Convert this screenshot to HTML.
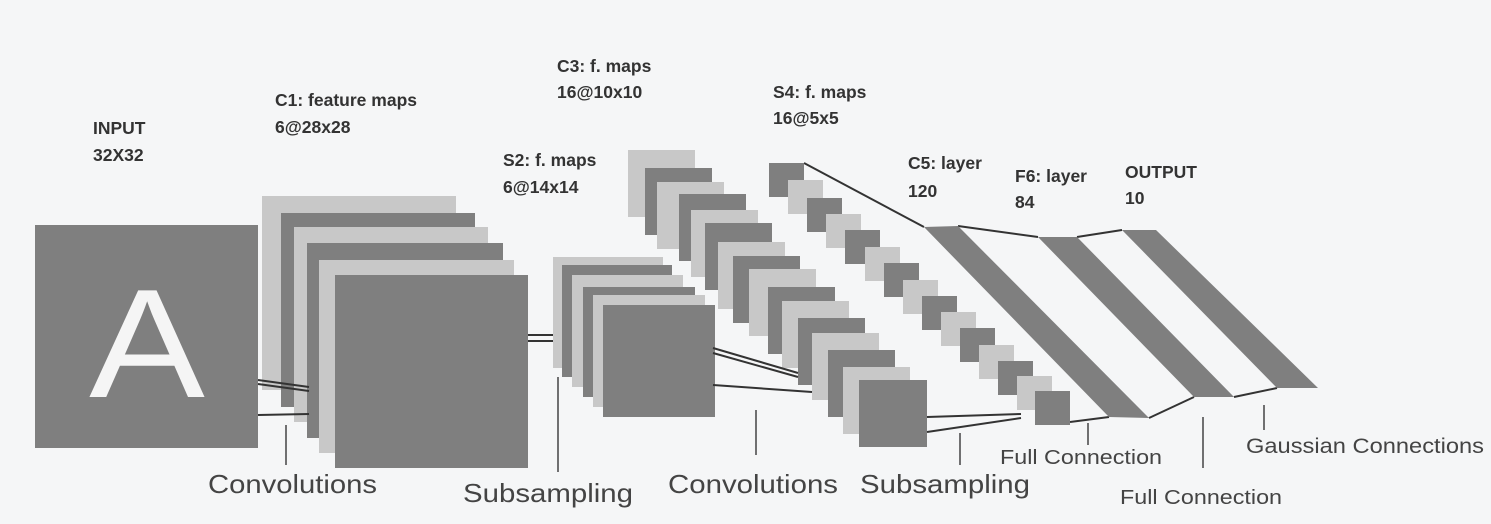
<!DOCTYPE html>
<html><head><meta charset="utf-8"><style>
html,body{margin:0;padding:0;background:#f5f6f7;}
svg{display:block}
.t{font-family:"Liberation Sans",sans-serif;font-weight:bold;font-size:17.5px;fill:#333}
.b{font-family:"Liberation Sans",sans-serif;fill:#444}
</style></head><body>
<svg width="1491" height="524" viewBox="0 0 1491 524" xmlns="http://www.w3.org/2000/svg">
<rect width="1491" height="524" fill="#f5f6f7"/>
<!-- input -->
<rect x="35" y="225" width="223" height="223" fill="#7f7f7f"/>
<text x="147" y="397" text-anchor="middle" font-family="Liberation Sans,sans-serif" font-size="155" fill="#f5f5f5" transform="translate(147 0) scale(1.12 1) translate(-147 0)">A</text>
<!-- C1 -->
<rect x="262" y="196" width="194" height="194" fill="#c8c8c8"/>
<rect x="281" y="213" width="194" height="194" fill="#7f7f7f"/>
<rect x="294" y="227" width="194" height="195" fill="#c8c8c8"/>
<rect x="307" y="243" width="196" height="195" fill="#7f7f7f"/>
<rect x="319" y="260" width="195" height="193" fill="#c8c8c8"/>
<rect x="335" y="275" width="193" height="193" fill="#7f7f7f"/>
<g stroke="#333" stroke-width="2" fill="none">
<line x1="258" y1="380" x2="309" y2="387"/><line x1="258" y1="384" x2="309" y2="391"/><line x1="258" y1="415" x2="309" y2="414"/>
<line x1="528" y1="335" x2="553" y2="335"/><line x1="528" y1="341" x2="553" y2="341"/>
</g>
<!-- S2 -->
<rect x="553" y="257" width="110" height="111" fill="#c8c8c8"/>
<rect x="562" y="265" width="110" height="112" fill="#7f7f7f"/>
<rect x="572" y="275" width="111" height="112" fill="#c8c8c8"/>
<rect x="583" y="287" width="112" height="110" fill="#7f7f7f"/>
<rect x="593" y="295" width="112" height="112" fill="#c8c8c8"/>
<rect x="603" y="305" width="112" height="112" fill="#7f7f7f"/>
<!-- C3 -->
<g>
<rect x="628" y="150" width="67" height="67" fill="#c8c8c8"/>
<rect x="645" y="168" width="67" height="67" fill="#7f7f7f"/>
<rect x="657" y="182" width="67" height="67" fill="#c8c8c8"/>
<rect x="679" y="194" width="67" height="67" fill="#7f7f7f"/>
<rect x="691" y="210" width="67" height="67" fill="#c8c8c8"/>
<rect x="705" y="223" width="67" height="67" fill="#7f7f7f"/>
<rect x="718" y="242" width="67" height="67" fill="#c8c8c8"/>
<rect x="733" y="256" width="67" height="67" fill="#7f7f7f"/>
<rect x="749" y="269" width="67" height="67" fill="#c8c8c8"/>
<rect x="768" y="287" width="67" height="67" fill="#7f7f7f"/>
<rect x="782" y="301" width="67" height="67" fill="#c8c8c8"/>
<rect x="798" y="318" width="67" height="67" fill="#7f7f7f"/>
<rect x="812" y="333" width="67" height="67" fill="#c8c8c8"/>
<rect x="828" y="350" width="67" height="67" fill="#7f7f7f"/>
<rect x="843" y="367" width="67" height="67" fill="#c8c8c8"/>
<rect x="859" y="380" width="68" height="67" fill="#7f7f7f"/>
</g>
<g stroke="#333" stroke-width="2" fill="none">
<line x1="713" y1="348" x2="798" y2="373"/><line x1="713" y1="353" x2="798" y2="377"/><line x1="713" y1="385" x2="812" y2="392"/>
<line x1="927" y1="417" x2="1021" y2="414"/><line x1="927" y1="432" x2="1021" y2="418"/>
<line x1="804" y1="163" x2="924" y2="227"/>
<line x1="1070" y1="422" x2="1109" y2="417"/>
<line x1="958" y1="226" x2="1038" y2="237"/><line x1="1077" y1="237" x2="1122" y2="230"/>
<line x1="1149" y1="418" x2="1194" y2="397"/><line x1="1234" y1="397" x2="1277" y2="388"/>
</g>
<!-- S4 -->
<g>
<rect x="769" y="163" width="35" height="34" fill="#7f7f7f"/>
<rect x="788" y="180" width="35" height="34" fill="#c8c8c8"/>
<rect x="807" y="198" width="35" height="34" fill="#7f7f7f"/>
<rect x="826" y="214" width="35" height="34" fill="#c8c8c8"/>
<rect x="845" y="230" width="35" height="34" fill="#7f7f7f"/>
<rect x="865" y="247" width="35" height="34" fill="#c8c8c8"/>
<rect x="884" y="263" width="35" height="34" fill="#7f7f7f"/>
<rect x="903" y="280" width="35" height="34" fill="#c8c8c8"/>
<rect x="922" y="296" width="35" height="34" fill="#7f7f7f"/>
<rect x="941" y="312" width="35" height="34" fill="#c8c8c8"/>
<rect x="960" y="328" width="35" height="34" fill="#7f7f7f"/>
<rect x="979" y="345" width="35" height="34" fill="#c8c8c8"/>
<rect x="998" y="361" width="35" height="34" fill="#7f7f7f"/>
<rect x="1017" y="376" width="35" height="34" fill="#c8c8c8"/>
<rect x="1035" y="391" width="35" height="34" fill="#7f7f7f"/>
</g>
<!-- C5, F6, OUTPUT -->
<polygon points="924,227 958,226 1149,418 1109,417" fill="#7f7f7f"/>
<polygon points="1038,237 1077,237 1234,397 1194,397" fill="#7f7f7f"/>
<polygon points="1122,230 1156,230 1318,388 1277,388" fill="#7f7f7f"/>
<!-- ticks -->
<g stroke="#444" stroke-width="1.5">
<line x1="286" y1="425" x2="286" y2="465"/>
<line x1="558" y1="377" x2="558" y2="472"/>
<line x1="756" y1="410" x2="756" y2="455"/>
<line x1="960" y1="433" x2="960" y2="465"/>
<line x1="1088" y1="423" x2="1088" y2="445"/>
<line x1="1203" y1="417" x2="1203" y2="468"/>
<line x1="1264" y1="405" x2="1264" y2="430"/>
</g>
<!-- top labels -->
<text class="t" x="93" y="134">INPUT</text><text class="t" x="93" y="161">32X32</text>
<text class="t" x="275" y="106">C1: feature maps</text><text class="t" x="275" y="133">6@28x28</text>
<text class="t" x="557" y="72">C3: f. maps</text><text class="t" x="557" y="98">16@10x10</text>
<text class="t" x="503" y="166">S2: f. maps</text><text class="t" x="503" y="193">6@14x14</text>
<text class="t" x="773" y="98">S4: f. maps</text><text class="t" x="773" y="124">16@5x5</text>
<text class="t" x="908" y="169">C5: layer</text><text class="t" x="908" y="197">120</text>
<text class="t" x="1015" y="182">F6: layer</text><text class="t" x="1015" y="208">84</text>
<text class="t" x="1125" y="178">OUTPUT</text><text class="t" x="1125" y="204">10</text>
<!-- bottom labels -->
<text class="b" x="208" y="493" font-size="26" textLength="169" lengthAdjust="spacingAndGlyphs">Convolutions</text>
<text class="b" x="463" y="502" font-size="26" textLength="170" lengthAdjust="spacingAndGlyphs">Subsampling</text>
<text class="b" x="668" y="493" font-size="26" textLength="170" lengthAdjust="spacingAndGlyphs">Convolutions</text>
<text class="b" x="860" y="493" font-size="26" textLength="170" lengthAdjust="spacingAndGlyphs">Subsampling</text>
<text class="b" x="1000" y="464" font-size="20" textLength="162" lengthAdjust="spacingAndGlyphs">Full Connection</text>
<text class="b" x="1120" y="504" font-size="20" textLength="162" lengthAdjust="spacingAndGlyphs">Full Connection</text>
<text class="b" x="1246" y="453" font-size="21" textLength="238" lengthAdjust="spacingAndGlyphs">Gaussian Connections</text>
</svg>
</body></html>
